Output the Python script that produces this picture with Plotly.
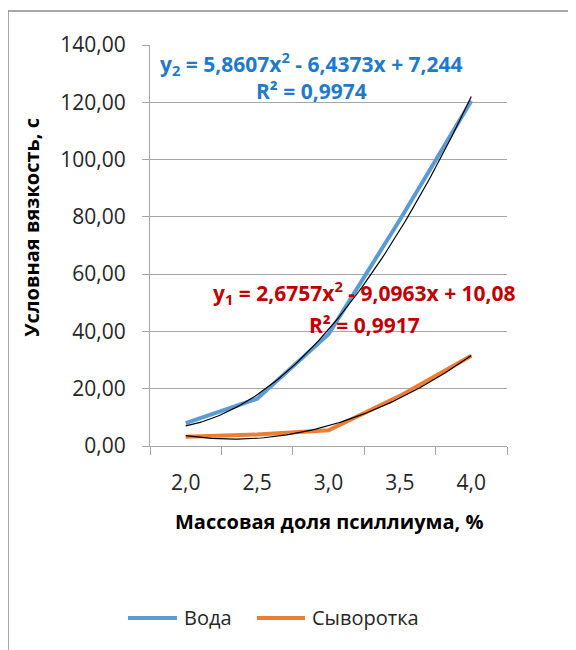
import numpy as np
import plotly.graph_objects as go

# ---- data ----
categories = ["2,0", "2,5", "3,0", "3,5", "4,0"]
voda = [8.0, 16.5, 39.0, 79.0, 120.5]
syvorotka = [3.2, 4.0, 5.5, 17.5, 31.5]
y_ticks = [0, 20, 40, 60, 80, 100, 120, 140]
series_names = ["Вода", "Сыворотка"]
series_colors = ["#5B9BD5", "#ED7D31"]
eq_voda = ["y<sub>2</sub> = 5,8607x<sup>2</sup> - 6,4373x + 7,244", "R² = 0,9974"]
eq_syv = ["y<sub>1</sub> = 2,6757x<sup>2</sup> - 9,0963x + 10,08", "R² = 0,9917"]

FONT = "Open Sans"
pos = np.arange(1, len(categories) + 1)

fig = go.Figure()
for name, vals, col in zip(series_names, (voda, syvorotka), series_colors):
    fig.add_trace(go.Scatter(x=pos, y=vals, mode="lines", name=name,
                             line=dict(color=col, width=4)))

# polynomial (2nd order) trendlines as in the original chart
xs = np.linspace(1, len(categories), 100)
for vals in (voda, syvorotka):
    c = np.polyfit(pos, vals, 2)
    fig.add_trace(go.Scatter(x=xs, y=np.polyval(c, xs), mode="lines",
                             showlegend=False, hoverinfo="skip",
                             line=dict(color="black", width=1.2)))

gray = "#A6A6A6"
fig.update_layout(
    width=576, height=650,
    margin=dict(l=142, r=77, t=37, b=212),
    paper_bgcolor="white", plot_bgcolor="white",
    separators=", ",
    font=dict(family=FONT, color="#262626"),
    showlegend=False,
    xaxis=dict(range=[0.5, 5.5], tickmode="array", tickvals=list(pos), ticktext=categories,
               ticks="outside", ticklen=18, tickcolor="rgba(0,0,0,0)",
               tickfont=dict(size=21, family=FONT, color="#262626"),
               showgrid=False, zeroline=False, showline=True, linecolor=gray, linewidth=1,
               minor=dict(tickmode="array", tickvals=[0.5, 1.5, 2.5, 3.5, 4.5, 5.5],
                          ticks="outside", ticklen=8, tickcolor=gray, showgrid=False),
               fixedrange=True),
    yaxis=dict(range=[0, 140], tickmode="array", tickvals=y_ticks, tickformat=".2f",
               ticks="outside", ticklen=7, tickcolor=gray, ticklabelstandoff=12,
               tickfont=dict(size=21, family=FONT, color="#262626"),
               showgrid=True, gridcolor=gray, gridwidth=1, zeroline=False,
               showline=True, linecolor=gray, linewidth=1, fixedrange=True),
)

def ann(text, x, y, size, color, bold=True, angle=0, xanchor="center"):
    fig.add_annotation(text=text, x=x, y=y, xref="paper", yref="paper",
                       showarrow=False, textangle=angle, xanchor=xanchor, yanchor="middle",
                       font=dict(size=size, family=FONT, color=color,
                                 weight="bold" if bold else "normal"))

ann(eq_voda[0], 0.451, 0.955, 21, "#1F7AC8")
ann(eq_voda[1], 0.451, 0.885, 21, "#1F7AC8")
ann(eq_syv[0], 0.602, 0.382, 21, "#C00000")
ann(eq_syv[1], 0.602, 0.302, 21, "#C00000")
ann("Условная вязкость, с", -0.3305, 0.544, 20, "#000000", angle=-90)
ann("Массовая доля псиллиума, %", 0.5, -0.1895, 20, "#000000")

# legend (drawn manually to match long legend keys)
leg_y = -0.4289
leg_items = [(-0.0616, 0.0756, 0.0896), (0.2997, 0.4342, 0.4482)]
for (x0, x1, xt), name, col in zip(leg_items, series_names, series_colors):
    fig.add_shape(type="line", xref="paper", yref="paper", x0=x0, x1=x1, y0=leg_y, y1=leg_y,
                  line=dict(color=col, width=4))
    ann(name, xt, leg_y, 20, "#262626", bold=False, xanchor="left")

# outer chart border (left and top edges visible)
fig.add_shape(type="line", xref="paper", yref="paper", x0=-0.3978, x1=1.3, y0=1.0848, y1=1.0848,
              line=dict(color="#8C8C8C", width=1.5))
fig.add_shape(type="line", xref="paper", yref="paper", x0=-0.3978, x1=-0.3978, y0=1.0848, y1=-0.6,
              line=dict(color="#8C8C8C", width=1.5))

fig.write_html("out.html")
